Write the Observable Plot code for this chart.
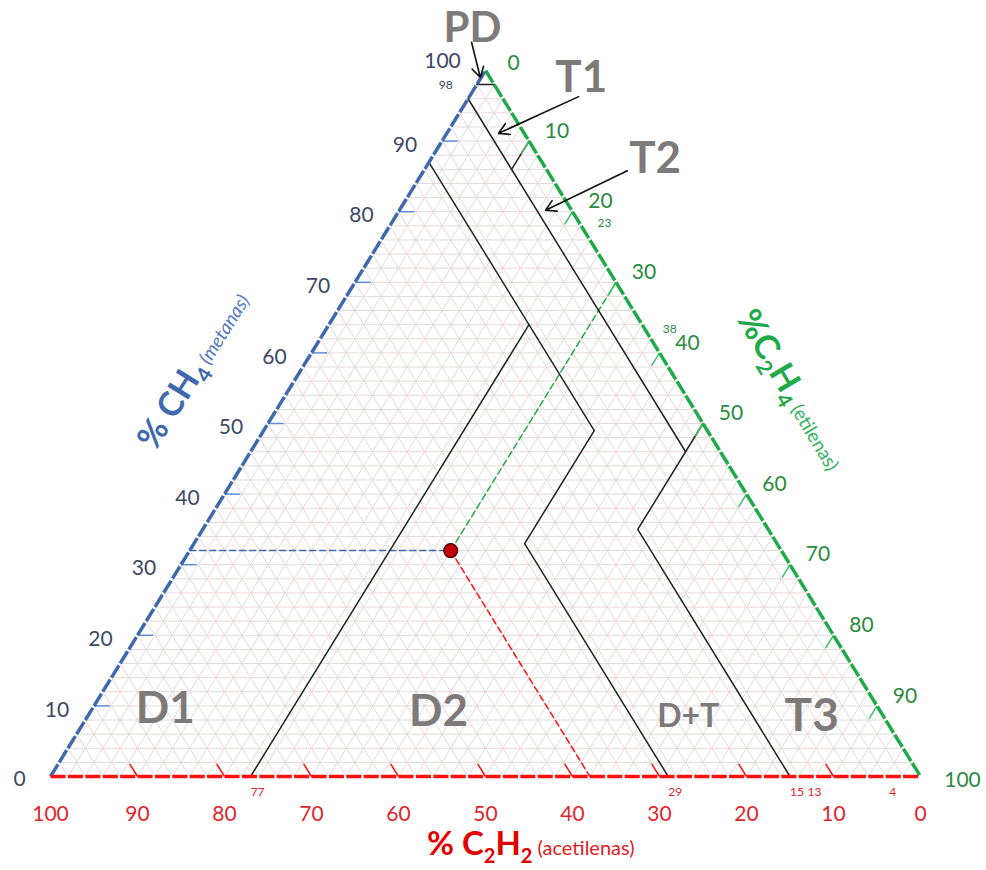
<!DOCTYPE html>
<html><head><meta charset="utf-8">
<script src="https://cdn.jsdelivr.net/npm/d3@7"></script>
<script src="https://cdn.jsdelivr.net/npm/@observablehq/plot@0.6"></script>
<style>body{margin:0;background:#fff} svg{display:block}</style>
</head><body><div id="chart"></div>
<script>
// Ternary points are [C2H2, C2H4, CH4] in %
const gridSteps = d3.range(2, 100, 2);
const majorTicks = [10, 20, 30, 40, 50, 60, 70, 80, 90];
const innerLabels = [10, 20, 30, 40, 50, 60, 70, 80, 90];
const boundaryPD = [[2, 0, 98], [0, 2, 98]];
const boundaryT1T2 = [[0, 10, 90], [4, 10, 86]];
const boundaryC2H2_4 = [[4, 0, 96], [4, 50, 46]];
const boundaryT3 = [[0, 50, 50], [15, 50, 35], [15, 85, 0]];
const boundaryD1D2 = [[77, 23, 0], [13, 23, 64]];
const boundaryD2DT = [[13, 0, 87], [13, 38, 49], [29, 38, 33], [29, 71, 0]];
const sampleC2H2 = 38, sampleC2H4 = 30, sampleCH4 = 32;
const zoneNames = ["PD", "T1", "T2", "D1", "D2", "D+T", "T3"];
const zoneX = [48.5, 61.0, 69.5, 13.2, 44.6, 73.3, 87.5];
const zoneY = [105.9, 98.9, 87.5, 9.6, 9.2, 8.5, 8.5];
const zoneSize = [42, 44, 44, 44, 44, 32, 46];
const arrowFrom = [[48.4, 104.0], [60.7, 96.3], [66.3, 85.8]];
const arrowTo = [[49.4, 99.0], [51.5, 91.1], [56.9, 80.2]];
const minorCH4 = [98];
const minorC2H4 = [23, 38];
const minorC2H2 = [77, 29, 15, 13, 4];

const P = ([a, b, c]) => ({x: b + c / 2, y: c});
const seg = (p, q) => { const A = P(p), B = P(q); return {x1: A.x, y1: A.y, x2: B.x, y2: B.y}; };
const poly = pts => pts.map(P);

const gridLinks = gridSteps.flatMap(s => [
  seg([100 - s, 0, s], [0, 100 - s, s]),
  seg([100 - s, s, 0], [0, s, 100 - s]),
  seg([s, 100 - s, 0], [s, 0, 100 - s])
]);
const leftTicks = majorTicks.map(c => seg([100 - c, 0, c], [98.2 - c, 1.8, c]));
const rightTicks = majorTicks.map(b => seg([0, b, 100 - b], [1.8, b, 98.2 - b]));
const bottomTicks = majorTicks.map(a => seg([a, 100 - a, 0], [a, 98.2 - a, 1.8]));
const sample = [sampleC2H2, sampleC2H4, sampleCH4];

const BLUE = "#3f69ad", GREEN = "#1faa4a", RED = "#ff1010";
const BLUE_T = "#3d4866", GREEN_T = "#2a8a3e", RED_T = "#e0262b";
const GRAY = "#7f7a7a";
const edgeStyle = {x: "x", y: "y", strokeWidth: 3.5, strokeLinecap: "butt"};

const chart = Plot.plot({
  width: 986, height: 870,
  marginLeft: 50, marginRight: 66, marginTop: 70, marginBottom: 94,
  x: {domain: [0, 100], axis: null},
  y: {domain: [0, 100], axis: null},
  style: {fontFamily: "Lato, sans-serif", background: "white", overflow: "visible"},
  marks: [
    Plot.link(gridLinks, {x1: "x1", y1: "y1", x2: "x2", y2: "y2", stroke: "#e6d8d8", strokeWidth: 1}),
    // sample guides
    Plot.line(poly([[100 - sampleCH4, 0, sampleCH4], sample]), {x: "x", y: "y", stroke: BLUE, strokeWidth: 1.5, strokeDasharray: "6,4"}),
    Plot.line(poly([sample, [0, sampleC2H4, 100 - sampleC2H4]]), {x: "x", y: "y", stroke: "#22aa44", strokeWidth: 1.5, strokeDasharray: "6,4"}),
    Plot.line(poly([sample, [sampleC2H2, 100 - sampleC2H2, 0]]), {x: "x", y: "y", stroke: RED, strokeWidth: 1.5, strokeDasharray: "6,4"}),
    // zone boundaries
    ...[boundaryPD, boundaryT1T2, boundaryC2H2_4, boundaryT3, boundaryD1D2, boundaryD2DT].map(b =>
      Plot.line(poly(b), {x: "x", y: "y", stroke: "#222", strokeWidth: 1.5})),
    // ticks
    Plot.link(leftTicks, {x1: "x1", y1: "y1", x2: "x2", y2: "y2", stroke: "#5b8fd8", strokeWidth: 1.5}),
    Plot.link(rightTicks, {x1: "x1", y1: "y1", x2: "x2", y2: "y2", stroke: "#3cc064", strokeWidth: 1.5}),
    Plot.link(bottomTicks, {x1: "x1", y1: "y1", x2: "x2", y2: "y2", stroke: RED, strokeWidth: 1.5}),
    // edges
    Plot.line(poly([[100, 0, 0], [0, 0, 100]]), {...edgeStyle, stroke: BLUE, strokeDasharray: "14.3,2.3"}),
    Plot.line(poly([[0, 0, 100], [0, 100, 0]]), {...edgeStyle, stroke: GREEN, strokeDasharray: "14.3,2.3"}),
    Plot.line(poly([[100, 0, 0], [0, 100, 0]]), {...edgeStyle, stroke: RED, strokeDasharray: "15.1,2.3"}),
    // sample point
    Plot.dot([P(sample)], {x: "x", y: "y", r: 7, fill: "#c00000", stroke: "#3a0000", strokeWidth: 1.2}),
    // arrows
    Plot.arrow(arrowFrom.map((f, i) => ({x1: f[0], y1: f[1], x2: arrowTo[i][0], y2: arrowTo[i][1]})),
      {x1: "x1", y1: "y1", x2: "x2", y2: "y2", stroke: "#111", strokeWidth: 1.6, headLength: 11}),
    // tick labels
    Plot.text(innerLabels, {x: c => c / 2, y: c => c, text: d => String(d), dx: -37, dy: 4, fill: BLUE_T, fontSize: 21}),
    Plot.text([0], {x: 0, y: 0, text: d => String(d), dx: -31, dy: 3, fill: BLUE_T, fontSize: 21}),
    Plot.text([100], {x: 50, y: 100, text: d => String(d), dx: -43, dy: -9, fill: BLUE_T, fontSize: 21}),
    Plot.text(innerLabels, {x: b => b + (100 - b) / 2, y: b => 100 - b, text: d => String(d), dx: 28, dy: -10, fill: GREEN_T, fontSize: 21}),
    Plot.text([0], {x: 50, y: 100, text: d => String(d), dx: 28, dy: -7, fill: GREEN_T, fontSize: 21}),
    Plot.text([100], {x: 100, y: 0, text: d => String(d), dx: 42, dy: 4, fill: GREEN_T, fontSize: 21}),
    Plot.text([100, ...innerLabels, 0], {x: a => 100 - a, y: 0, text: d => String(d), dy: 38, fill: RED_T, fontSize: 21}),
    // small boundary labels
    Plot.text(minorCH4, {x: c => c / 2, y: c => c, text: d => String(d), dx: -31, dy: 1, fill: BLUE_T, fontSize: 12}),
    Plot.text(minorC2H4, {x: b => b + (100 - b) / 2, y: b => 100 - b, text: d => String(d), dx: 19, dy: -10, fill: GREEN_T, fontSize: 12}),
    Plot.text(minorC2H2, {x: a => 100 - a, y: 0, text: d => String(d), dx: 7, dy: 16, fill: RED_T, fontSize: 12}),
    // zone names
    Plot.text(zoneNames, {x: (d, i) => zoneX[i], y: (d, i) => zoneY[i], text: d => d, fontSize: (d, i) => zoneSize[i], fontWeight: "bold", fill: GRAY}),
    // axis titles
    Plot.text(["% CH4 (metanas)"], {x: 17.2, y: 57.0, text: d => d, rotate: -58, fill: BLUE}),
    Plot.text(["%C2H4 (etilenas)"], {x: 84.4, y: 54.2, text: d => d, rotate: 59, fill: GREEN}),
    Plot.text(["% C2H2 (acetilenas)"], {x: 55.2, y: -10.6, text: d => d, fill: RED})
  ]
});

// rich text for axis titles (subscripts)
const titleParts = {
  "% CH4 (metanas)": [["% CH", 34, "bold", "normal", 0, BLUE], ["4", 21, "bold", "normal", 8, BLUE], [" (metanas)", 19, "normal", "italic", -8, "#5279bd"]],
  "%C2H4 (etilenas)": [["%C", 34, "bold", "normal", 0, GREEN], ["2", 21, "bold", "normal", 8, GREEN], ["H", 34, "bold", "normal", -8, GREEN], ["4", 21, "bold", "normal", 8, GREEN], [" (etilenas)", 19, "normal", "normal", -8, "#2fb25a"]],
  "% C2H2 (acetilenas)": [["% C", 33, "bold", "normal", 0, "#e00000"], ["2", 20, "bold", "normal", 8, "#e00000"], ["H", 33, "bold", "normal", -8, "#e00000"], ["2", 20, "bold", "normal", 8, "#e00000"], [" (acetilenas)", 20, "normal", "normal", -8, "#e02020"]]
};
chart.querySelectorAll("text").forEach(t => {
  const parts = titleParts[t.textContent];
  if (!parts) return;
  t.textContent = "";
  for (const [s, size, weight, style, dy, fill] of parts) {
    const ts = document.createElementNS("http://www.w3.org/2000/svg", "tspan");
    ts.textContent = s;
    ts.setAttribute("font-size", size);
    ts.setAttribute("font-weight", weight);
    ts.setAttribute("font-style", style);
    ts.setAttribute("fill", fill);
    if (dy) ts.setAttribute("dy", dy);
    t.appendChild(ts);
  }
});
document.getElementById("chart").appendChild(chart);
</script>
</body></html>
